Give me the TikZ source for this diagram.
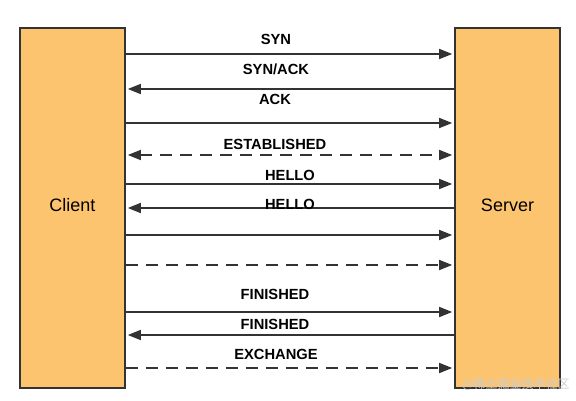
\documentclass[tikz,border=0pt]{standalone}
\usepackage{fontspec}
\setmainfont{Liberation Sans}
\newfontfamily\cjkfont{Noto Sans CJK SC}
\usetikzlibrary{arrows.meta}
\definecolor{boxfill}{RGB}{253,196,112}
\definecolor{ink}{RGB}{51,51,51}
\definecolor{wm}{RGB}{205,205,205}
\tikzset{
  party/.style={draw=ink, line width=1.6pt, fill=boxfill, minimum width=105pt, minimum height=360pt, inner sep=0pt},
  partyname/.style={font=\fontsize{18}{20}\selectfont, inner sep=0pt, text=black},
  tip/.tip={Triangle[length=13pt,width=10pt]},
  msg/.style={draw=ink, line width=1.6pt},
  tohead/.style={-tip, shorten >=2pt},
  fromhead/.style={tip-, shorten <=2pt},
  bothhead/.style={tip-tip, shorten <=2pt, shorten >=2pt},
  dsh/.style={dash pattern=on 12pt off 8pt},
  lbl/.style={font=\fontsize{14.7}{16}\selectfont\bfseries, text=black, inner sep=0pt}
}
\begin{document}
\begin{tikzpicture}[x=1pt,y=-1pt]
\useasboundingbox (0,0) rectangle (576,401);
\node[party] (client) at (72.5,208) {};
\node[party] (server) at (507.5,208) {};
\node[partyname] (cname) at (72.5,205.5) {Client};
\node[partyname] (sname) at (507.5,205.5) {Server};
% messages
\draw[msg,tohead] (client.east |- 0,54) -- (server.west |- 0,54);
\draw[msg,fromhead] (client.east |- 0,89) -- (server.west |- 0,89);
\draw[msg,tohead] (client.east |- 0,123) -- (server.west |- 0,123);
\draw[msg,bothhead,dsh] (client.east |- 0,155) -- (server.west |- 0,155);
\draw[msg,tohead] (client.east |- 0,184) -- (server.west |- 0,184);
\draw[msg,fromhead] (client.east |- 0,208) -- (server.west |- 0,208);
\draw[msg,tohead] (client.east |- 0,235) -- (server.west |- 0,235);
\draw[msg,tohead,dsh] (client.east |- 0,265) -- (server.west |- 0,265);
\draw[msg,tohead] (client.east |- 0,312) -- (server.west |- 0,312);
\draw[msg,fromhead] (client.east |- 0,335) -- (server.west |- 0,335);
\draw[msg,tohead,dsh] (client.east |- 0,368) -- (server.west |- 0,368);
% labels
\node[lbl] (l1) at (276,39) {SYN};
\node[lbl] (l2) at (276,69) {SYN/ACK};
\node[lbl] (l3) at (275,99) {ACK};
\node[lbl] (l4) at (275,144) {ESTABLISHED};
\node[lbl] (l5) at (290,175) {HELLO};
\node[lbl] (l6) at (290,204) {HELLO};
\node[lbl] (l7) at (275,294) {FINISHED};
\node[lbl] (l8) at (275,324) {FINISHED};
\node[lbl] (l9) at (276,354) {EXCHANGE};
% watermark
\node[text=wm, font=\cjkfont\fontsize{12}{14}\selectfont, inner sep=0pt] (wmk) at (516,384) {@稀土掘金技术社区};
\end{tikzpicture}
\end{document}
